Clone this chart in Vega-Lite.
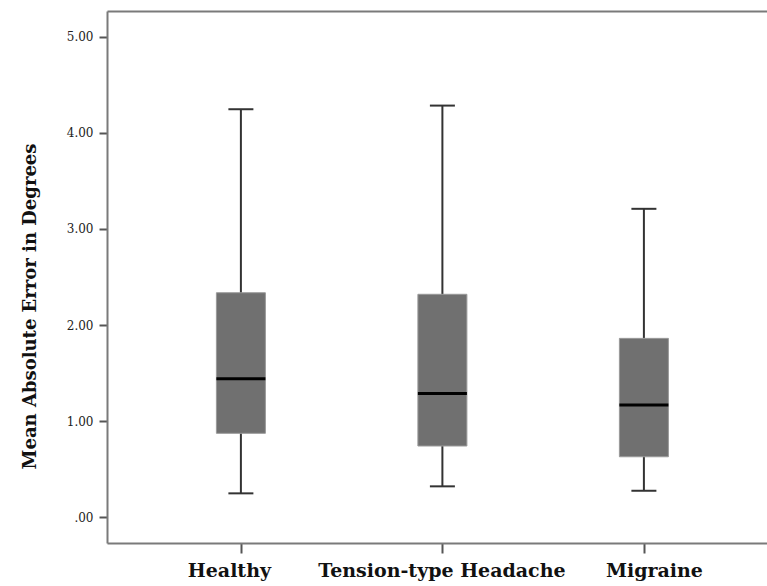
{
  "$schema": "https://vega.github.io/schema/vega-lite/v6.json",
  "width": 660,
  "height": 532,
  "autosize": {"type": "none"},
  "padding": {"left": 107, "top": 11, "right": 0, "bottom": 43},
  "background": "white",
  "config": {"view": {"stroke": null}},
  "data": {
    "values": [
      {"group": "Healthy", "lower": 0.247, "q1": 0.872, "median": 1.44, "q3": 2.336, "upper": 4.247},
      {"group": "Tension-type Headache", "lower": 0.32, "q1": 0.74, "median": 1.288, "q3": 2.32, "upper": 4.285},
      {"group": "Migraine", "lower": 0.274, "q1": 0.628, "median": 1.167, "q3": 1.861, "upper": 3.21}
    ]
  },
  "resolve": {"axis": {"x": "independent"}},
  "layer": [
    {
      "mark": {"type": "rule", "stroke": "#333333", "strokeWidth": 2},
      "encoding": {
        "x": {
          "field": "group", "type": "nominal",
          "sort": ["Healthy", "Tension-type Headache", "Migraine"],
          "scale": {"type": "point", "padding": 0.6377, "align": 0.521},
          "axis": {
            "orient": "bottom", "title": null, "labelAngle": 0, "labelLimit": 0,
            "domainColor": "#7a7a7a", "domainWidth": 2,
            "tickColor": "#555555", "tickWidth": 2, "tickSize": 10,
            "labelFont": "DejaVu Serif", "labelFontWeight": "bold", "labelFontSize": 19,
            "labelColor": "#111111", "labelPadding": 8,
            "labelOffset": {"condition": [{"test": "datum.value === 'Healthy'", "value": -12}, {"test": "datum.value === 'Migraine'", "value": 10}], "value": -1}
          }
        },
        "y": {
          "field": "lower", "type": "quantitative",
          "scale": {"domain": [-0.27, 5.27], "nice": false, "zero": false},
          "axis": {
            "values": [0, 1, 2, 3, 4, 5], "grid": false,
            "labelExpr": "datum.value == 0 ? '.00' : format(datum.value, '.2f')",
            "domainColor": "#7a7a7a", "domainWidth": 2,
            "tickColor": "#555555", "tickWidth": 2, "tickSize": 8,
            "labelFont": "DejaVu Serif", "labelFontSize": 12, "labelColor": "#222222", "labelPadding": 6,
            "title": "Mean Absolute Error in Degrees",
            "titleFont": "DejaVu Serif", "titleFontWeight": "bold", "titleFontSize": 18, "titleColor": "#111111",
            "titleAngle": -90, "titleX": -72, "titleY": 295, "titleAlign": "center", "titleBaseline": "alphabetic"
          }
        },
        "y2": {"field": "upper"}
      }
    },
    {
      "mark": {"type": "bar", "size": 49, "fill": "#707070", "stroke": "#9a9a9a", "strokeWidth": 1},
      "encoding": {
        "x": {
          "field": "group", "type": "nominal",
          "sort": ["Healthy", "Tension-type Headache", "Migraine"],
          "axis": {"orient": "top", "title": null, "labels": false, "ticks": false, "domainColor": "#7a7a7a", "domainWidth": 2}
        },
        "y": {"field": "q1", "type": "quantitative"},
        "y2": {"field": "q3"}
      }
    },
    {
      "mark": {"type": "tick", "size": 49, "thickness": 3, "color": "#000000", "opacity": 1},
      "encoding": {
        "x": {"field": "group", "type": "nominal", "sort": ["Healthy", "Tension-type Headache", "Migraine"], "axis": null},
        "y": {"field": "median", "type": "quantitative"}
      }
    },
    {
      "mark": {"type": "tick", "size": 25, "thickness": 2, "color": "#333333", "opacity": 1},
      "encoding": {
        "x": {"field": "group", "type": "nominal", "sort": ["Healthy", "Tension-type Headache", "Migraine"], "axis": null},
        "y": {"field": "upper", "type": "quantitative"}
      }
    },
    {
      "mark": {"type": "tick", "size": 25, "thickness": 2, "color": "#333333", "opacity": 1},
      "encoding": {
        "x": {"field": "group", "type": "nominal", "sort": ["Healthy", "Tension-type Headache", "Migraine"], "axis": null},
        "y": {"field": "lower", "type": "quantitative"}
      }
    }
  ]
}
